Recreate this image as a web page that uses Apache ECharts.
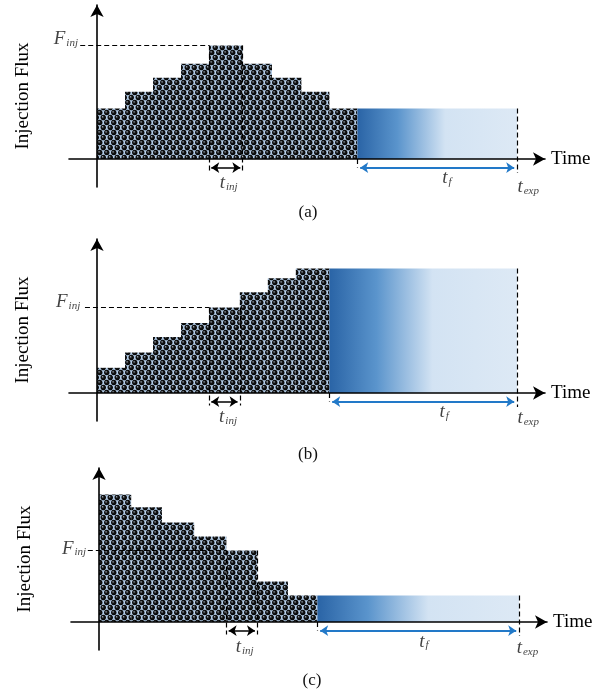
<!DOCTYPE html>
<html>
<head>
<meta charset="utf-8">
<script src="https://cdn.jsdelivr.net/npm/echarts@6/dist/echarts.min.js"></script>
<style>
html, body { margin: 0; padding: 0; background: #fff; }
#chart { width: 597px; height: 698px; }
</style>
</head>
<body>
<div id="chart"></div>
<script>
// step edges (time units) and injection flux of each step, per panel
var edgesA = [0, 1, 2, 3, 4, 5.2, 6.25, 7.3, 8.3, 9.3];
var fluxA = [3.6, 4.8, 5.8, 6.8, 8.1, 6.8, 5.8, 4.8, 3.6];
var edgesB = [0, 1, 2, 3, 4, 5.1, 6.1, 7.1, 8.3];
var fluxB = [1.8, 2.9, 4.0, 5.0, 6.1, 7.2, 8.2, 8.9];
var edgesC = [0, 1.15, 2.25, 3.4, 4.55, 5.65, 6.75, 7.8];
var fluxC = [9.1, 8.2, 7.1, 6.1, 5.1, 2.9, 1.9];
var injStep = [4, 4, 4];   // step whose flux is F_inj and width is t'_inj
var tExp = 15;
var panelTags = ['(a)', '(b)', '(c)'];

var SERIF = '"Liberation Serif", "DejaVu Serif", serif';
var BLUE = '#2279c8';

var myChart = echarts.init(document.getElementById('chart'));

/* dotted fill of the injection steps */
function dotPattern() {
    var c = document.createElement('canvas');
    c.width = 7;
    c.height = 10;
    var g = c.getContext('2d');
    g.fillStyle = '#b3cce7';
    g.fillRect(0, 0, 7, 10);
    [[1.75, 2.5], [5.25, 7.5], [8.75, 2.5], [-1.75, 7.5], [1.75, 12.5], [5.25, -2.5]].forEach(function (p) {
        var r = g.createRadialGradient(p[0] - 0.8, p[1] - 0.8, 0.2, p[0], p[1], 2.7);
        r.addColorStop(0, '#909ba7');
        r.addColorStop(0.38, '#171717');
        r.addColorStop(1, '#000');
        g.fillStyle = r;
        g.beginPath();
        g.arc(p[0], p[1], 2.7, 0, Math.PI * 2);
        g.fill();
    });
    return {image: c, repeat: 'repeat'};
}
var dots = dotPattern();
var fade = new echarts.graphic.LinearGradient(0, 0, 1, 0, [
    {offset: 0, color: '#2a64a6'},
    {offset: 0.25, color: '#5a94cc'},
    {offset: 0.55, color: '#d3e3f3'},
    {offset: 1, color: '#dde9f5'}
]);

function rectItem(fill) {
    return function (params, api) {
        var a = api.coord([api.value(0), api.value(2)]);
        var b = api.coord([api.value(1), 0]);
        return {
            type: 'rect',
            shape: {x: a[0], y: a[1], width: b[0] - a[0], height: b[1] - a[1]},
            style: {fill: fill}
        };
    };
}

var RICH = {
    v: {fontFamily: SERIF, fontStyle: 'italic', fontSize: 19, color: '#111'},
    s: {fontFamily: SERIF, fontStyle: 'italic', fontSize: 11, color: '#111', padding: [8, 0, 0, 1]}
};

// layout of each panel (pixels) and where its text labels sit (axis units)
var panels = [
    {edges: edgesA, flux: fluxA, left: 69, top: 5, tagX: 308, tagY: 213,
        fFrom: -0.6, fLab: [-0.68, 8.55], injLab: [4.7, -1.7], tfLab: [12.5, -1.35], expLab: [15.4, -2.0]},
    {edges: edgesB, flux: fluxB, left: 69, top: 239, tagX: 308, tagY: 455,
        fFrom: -0.43, fLab: [-0.6, 6.5], injLab: [4.68, -1.7], tfLab: [12.4, -1.35], expLab: [15.4, -1.8]},
    {edges: edgesC, flux: fluxC, left: 71, top: 468, tagX: 312, tagY: 681,
        fFrom: -0.4, fLab: [-0.46, 5.25], injLab: [5.2, -1.8], tfLab: [11.6, -1.4], expLab: [15.3, -1.85]}
];

var grids = [], xAxes = [], yAxes = [], series = [];

panels.forEach(function (p, i) {
    var k = injStep[i];
    var last = p.edges[p.edges.length - 1];
    var tail = p.flux[p.flux.length - 1];
    var fInj = p.flux[k];

    grids.push({left: p.left, top: p.top, width: 476, height: 182, outerBoundsMode: 'none', containLabel: false});
    xAxes.push({
        type: 'value', gridIndex: i, min: -1, max: 16, z: 10,
        axisLine: {onZero: true, symbol: ['none', 'arrow'], symbolSize: [10, 12],
            lineStyle: {color: '#000', width: 1.6}},
        axisTick: {show: false}, axisLabel: {show: false}, splitLine: {show: false},
        name: 'Time', nameLocation: 'end', nameGap: 6,
        nameTextStyle: {fontFamily: SERIF, fontSize: 19, color: '#000', padding: [0, 0, 12, 0]}
    });
    yAxes.push({
        type: 'value', gridIndex: i, min: -2, max: 11, z: 10,
        axisLine: {onZero: true, symbol: ['none', 'arrow'], symbolSize: [10, 12],
            lineStyle: {color: '#000', width: 1.6}},
        axisTick: {show: false}, axisLabel: {show: false}, splitLine: {show: false},
        name: 'Injection Flux', nameLocation: 'middle', nameGap: 36, nameRotate: 90,
        nameTextStyle: {fontFamily: SERIF, fontSize: 19, color: '#000'}
    });

    var steps = p.flux.map(function (f, j) { return [p.edges[j], p.edges[j + 1], f]; });
    series.push({
        type: 'custom', xAxisIndex: i, yAxisIndex: i, silent: true,
        renderItem: rectItem(dots),
        encode: {x: [0, 1], y: 2},
        data: steps
    });
    series.push({
        type: 'custom', xAxisIndex: i, yAxisIndex: i, silent: true,
        renderItem: rectItem(fade),
        encode: {x: [0, 1], y: 2},
        data: [[last, tExp, tail]]
    });

    // dashed guides
    series.push({
        type: 'lines', coordinateSystem: 'cartesian2d', xAxisIndex: i, yAxisIndex: i,
        silent: true, z: 12, symbol: 'none',
        lineStyle: {color: '#000', width: 1.2, type: [5, 3], opacity: 1},
        data: [
            {coords: [[p.fFrom, fInj], [p.edges[k], fInj]]},
            {coords: [[p.edges[k], fInj], [p.edges[k], -0.9]]},
            {coords: [[p.edges[k + 1], fInj], [p.edges[k + 1], -0.9]]},
            {coords: [[last, 0], [last, -0.6]]},
            {coords: [[tExp, tail], [tExp, -1.0]]}
        ]
    });
    // t'_inj double arrow
    series.push({
        type: 'lines', coordinateSystem: 'cartesian2d', xAxisIndex: i, yAxisIndex: i,
        silent: true, z: 13, symbol: ['arrow', 'arrow'], symbolSize: 8,
        lineStyle: {color: '#000', width: 1.5, opacity: 1},
        data: [{coords: [[p.edges[k] + 0.08, -0.62], [p.edges[k + 1] - 0.08, -0.62]]}]
    });
    // t_f double arrow
    series.push({
        type: 'lines', coordinateSystem: 'cartesian2d', xAxisIndex: i, yAxisIndex: i,
        silent: true, z: 13, symbol: ['arrow', 'arrow'], symbolSize: 8,
        lineStyle: {color: BLUE, width: 1.8, opacity: 1},
        data: [{coords: [[last + 0.1, -0.62], [tExp - 0.1, -0.62]]}]
    });
    // text labels
    series.push({
        type: 'scatter', xAxisIndex: i, yAxisIndex: i, silent: true, z: 14,
        symbolSize: 0,
        label: {show: true, position: 'inside', rich: RICH, color: '#111'},
        data: [
            {value: p.fLab, label: {formatter: '{v|F}{s|inj}', align: 'right'}},
            {value: p.injLab, label: {formatter: '{v|t}{s|inj}'}},
            {value: p.tfLab, label: {formatter: '{v|t}{s|f}'}},
            {value: p.expLab, label: {formatter: '{v|t}{s|exp}'}}
        ]
    });
});

var option = {
    animation: false,
    grid: grids,
    xAxis: xAxes,
    yAxis: yAxes,
    series: series,
    graphic: panels.map(function (p, i) {
        return {
            type: 'text', x: p.tagX, y: p.tagY, silent: true,
            style: {text: panelTags[i], font: '17px ' + SERIF, fill: '#111',
                align: 'center', verticalAlign: 'middle'}
        };
    })
};

myChart.setOption(option);
</script>
</body>
</html>
